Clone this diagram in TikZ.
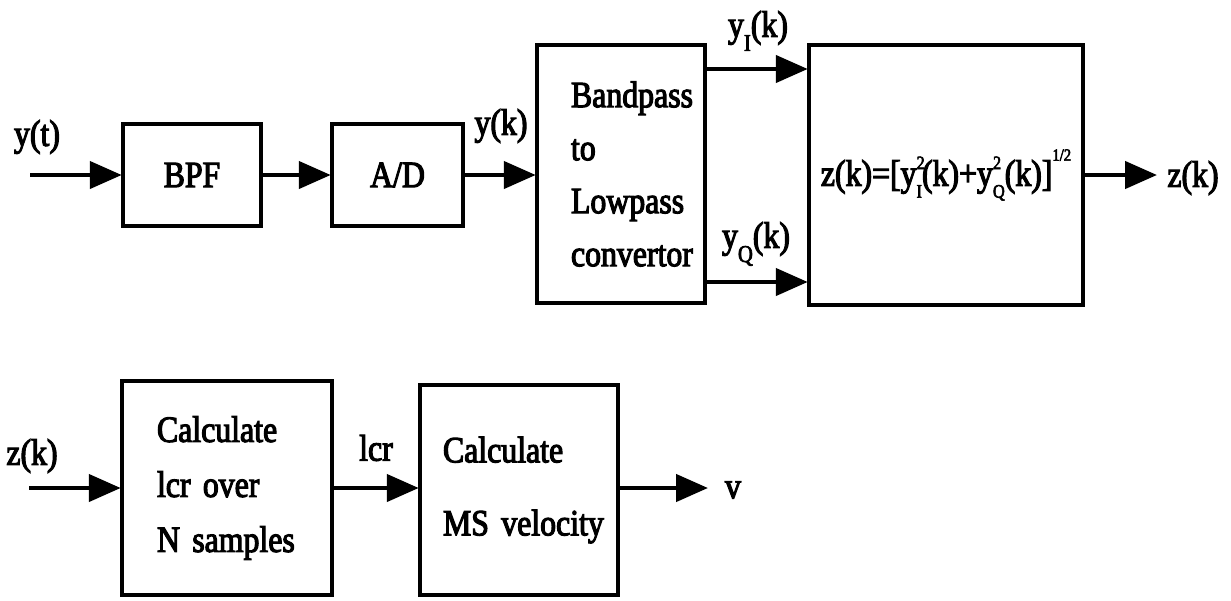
\documentclass[tikz,border=0pt]{standalone}
\usepackage{fontspec}
\setmainfont{Liberation Serif}[FakeStretch=0.86,FakeBold=3,WordSpace=0.7]
\usetikzlibrary{arrows.meta}
\newcommand\lowsub[1]{\raisebox{-0.38em}{\fontsize{24}{24}\selectfont #1}}
\newcommand\supsubb[2]{\rlap{\raisebox{0.45em}{\fontsize{19}{19}\selectfont #1}}\raisebox{-0.32em}{\fontsize{19}{19}\selectfont #2}}
\newcommand\halfsup{\raisebox{0.68em}{\fontsize{17}{17}\selectfont 1/2}}
\begin{document}
\begin{tikzpicture}[x=1pt,y=-1pt,
  txt/.style={font=\fontsize{37}{53}\selectfont, inner sep=0pt},
  blk/.style={draw, line width=4.5pt, txt},
  arr/.style={line width=4.5pt, -{Triangle[length=32pt,width=27pt]}, shorten >=-1pt}]
\useasboundingbox (0,0) rectangle (1231,600);
% top row blocks
\node[blk, minimum width=138pt, minimum height=102pt] (bpf) at (192,175) {BPF};
\node[blk, minimum width=131pt, minimum height=102pt] (ad) at (397.5,175) {A/D};
\node[blk, minimum width=168pt, minimum height=258pt, text width=100pt, inner xsep=34pt, align=left] (bl) at (621,174) {\mbox{Bandpass}\\to\\\mbox{Lowpass}\\\mbox{convertor}};
\node[blk, minimum width=274pt, minimum height=260pt] (zb) at (946,175) {z(k)=[y\supsubb{2}{I}(k)+y\supsubb{2}{Q}(k)]\halfsup};
% bottom row blocks
\node[blk, minimum width=210pt, minimum height=214pt, text width=140pt, inner xsep=35pt, align=left, font=\fontsize{37}{55}\selectfont] (calc) at (227,488) {\mbox{Calculate}\\\mbox{lcr over}\\\mbox{N samples}};
\node[blk, minimum width=198pt, minimum height=210pt, text width=164pt, inner xsep=17pt, align=left, font=\fontsize{37}{73}\selectfont] (ms) at (519,490) {\hspace*{6pt}\mbox{Calculate}\\\hspace*{6pt}\mbox{MS velocity}};
% coordinates
\coordinate (in1) at (30,175);
\coordinate (yI) at (757,69);
\coordinate (yQ) at (757,282);
\coordinate (out1) at (1156,175);
\coordinate (in2) at (29,488);
\coordinate (out2) at (707,488);
% connectors
\draw[arr] (in1) -- (bpf.west |- in1);
\draw[arr] (bpf.east |- in1) -- (ad.west |- in1);
\draw[arr] (ad.east |- in1) -- (bl.west |- in1);
\draw[arr] (bl.east |- yI) -- (zb.west |- yI);
\draw[arr] (bl.east |- yQ) -- (zb.west |- yQ);
\draw[arr] (zb.east |- out1) -- (out1);
\draw[arr] (in2) -- (calc.west |- in2);
\draw[arr] (calc.east |- in2) -- (ms.west |- in2);
\draw[arr] (ms.east |- in2) -- (out2);
% labels
\node[txt] (lyt) at (37,137) {y(t)};
\node[txt] (lyk) at (501,126) {y(k)};
\node[txt] (lyI) at (758,31) {y\lowsub{I}(k)};
\node[txt] (lyQ) at (756,244) {y\lowsub{Q}(k)};
\node[txt] (lzo) at (1193,178) {z(k)};
\node[txt] (lzi) at (32,456) {z(k)};
\node[txt] (llcr) at (376,448) {lcr};
\node[txt] (lv) at (733,490) {v};
\end{tikzpicture}
\end{document}
